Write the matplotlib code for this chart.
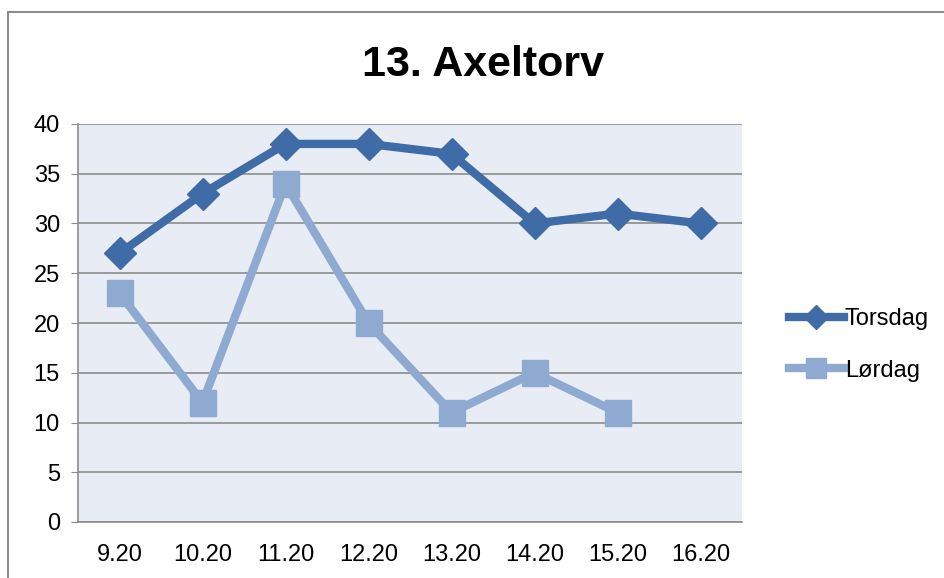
import matplotlib
matplotlib.use("Agg")
import matplotlib.pyplot as plt
from matplotlib.patches import Rectangle
import numpy as np

plt.rcParams['font.family'] = ['Liberation Sans Narrow', 'Liberation Sans', 'DejaVu Sans']

times = ["9.20", "10.20", "11.20", "12.20", "13.20", "14.20", "15.20", "16.20"]
torsdag = [27, 33, 38, 38, 37, 30, 31, 30]
lordag = [23, 12, 34, 20, 11, 15, 11, np.nan]

fig = plt.figure(figsize=(9.44, 5.78), dpi=100)
ax = fig.add_axes([78 / 944, 56 / 578, 664 / 944, 398 / 578])

x = np.arange(len(times))
ax.plot(x, torsdag, color="#3f6ca6", lw=6, marker="D", ms=16, label="Torsdag")
ax.plot(x, lordag, color="#8eaad1", lw=6, marker="s", ms=18.5, label="Lørdag")

ax.set_facecolor("#e8ecf4")
ax.set_xlim(-0.5, len(times) - 0.5)
ax.set_ylim(0, 40)
ax.set_yticks(range(0, 41, 5))
ax.set_xticks(x)
ax.set_xticklabels(times)
ax.grid(axis="y", color="#8c8c8c", lw=1.2)
ax.set_axisbelow(True)
for s in ["top", "right"]:
    ax.spines[s].set_visible(False)
for s in ["left", "bottom"]:
    ax.spines[s].set_color("#8c8c8c")
    ax.spines[s].set_linewidth(1.2)
ax.tick_params(axis="y", length=5, color="#8c8c8c", labelsize=17, pad=8)
ax.tick_params(axis="x", length=0, labelsize=17, pad=16)

fig.text(483 / 944, 1 - 65 / 578, "13. Axeltorv", ha="center", va="center",
         fontsize=31, fontweight="bold")

fig.legend(loc="center left", bbox_to_anchor=(768 / 944, 1 - 345 / 578),
           frameon=False, fontsize=17, handlelength=2.3, handletextpad=0.05,
           labelspacing=1.25, markerscale=0.75)

fig.add_artist(Rectangle((8 / 944, -0.1), 1.2, 1.1 - 12 / 578, transform=fig.transFigure,
                         fill=False, edgecolor="#8c8c8c", lw=1.5))

fig.savefig("out.png", dpi=100)
